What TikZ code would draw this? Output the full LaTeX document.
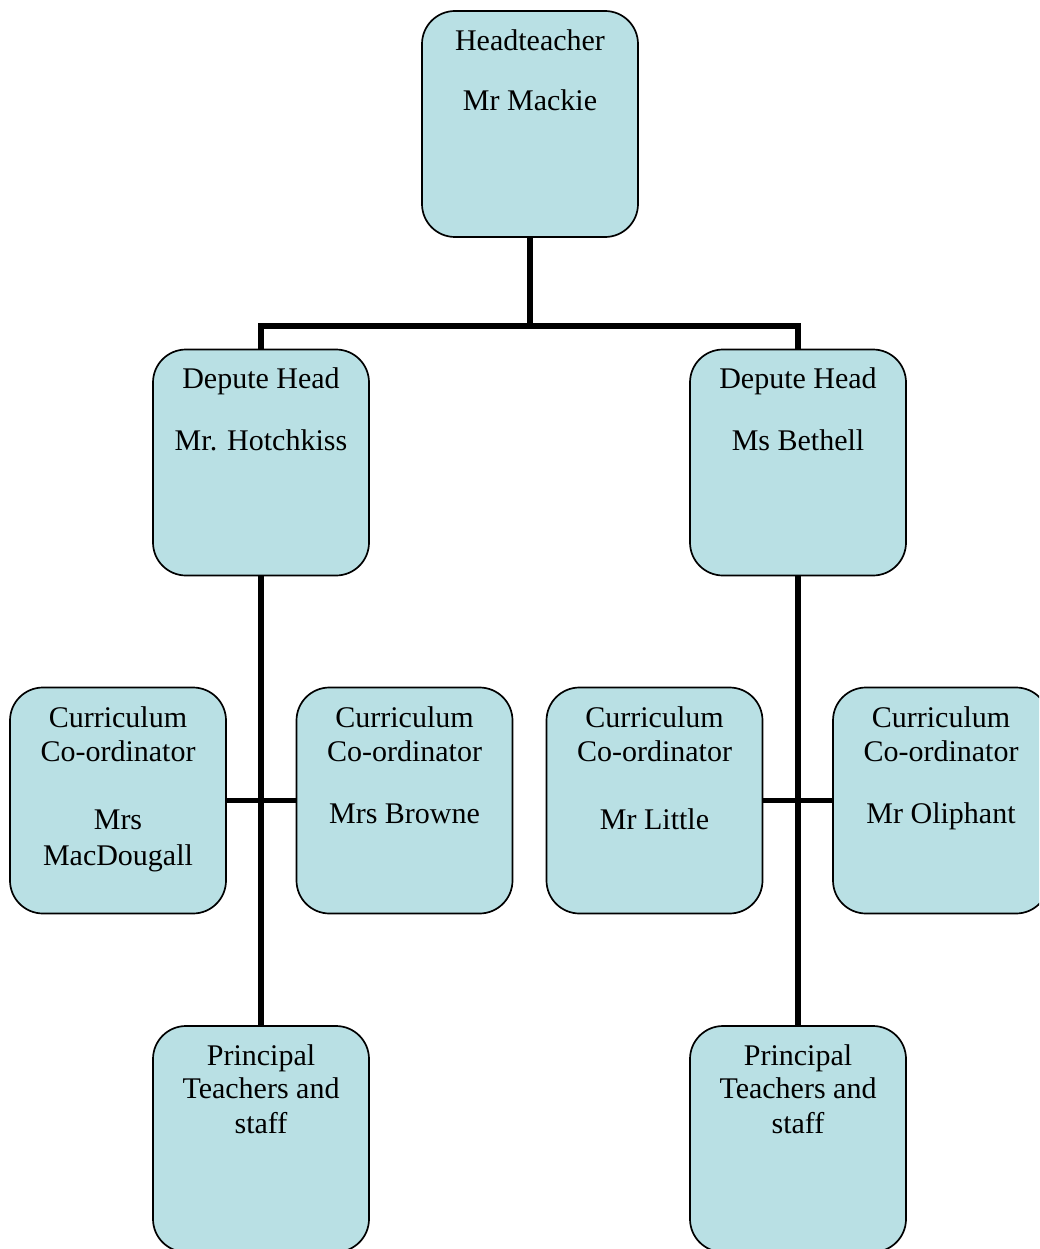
\documentclass[tikz,border=0pt]{standalone}
\usepackage{fontspec}
\setmainfont{Liberation Serif}
\usetikzlibrary{backgrounds}
\definecolor{boxfill}{RGB}{185,224,228}
\begin{document}
\begin{tikzpicture}[x=1pt,y=-1pt,
  orgbox/.style={draw=black,line width=1.7pt,fill=boxfill,rounded corners=33pt,
    minimum width=216pt,minimum height=226pt,inner sep=0pt,outer sep=0pt},
  txt/.style={anchor=base,inner sep=0pt,font=\fontsize{30}{34.5}\selectfont},
  conn/.style={line width=5.6pt,line join=miter}]
\useasboundingbox (0,0) rectangle (1039,1249);
\clip (0,0) rectangle (1039,1249);
% boxes
\node[orgbox] (ht) at (530,124) {};
\node[orgbox] (dl) at (261,462.5) {};
\node[orgbox] (dr) at (798,462.5) {};
\node[orgbox] (c1) at (118,800.5) {};
\node[orgbox] (c2) at (404.5,800.5) {};
\node[orgbox] (c3) at (654.5,800.5) {};
\node[orgbox] (c4) at (941,800.5) {};
\node[orgbox] (p1) at (261,1139) {};
\node[orgbox] (p2) at (798,1139) {};
% texts
\node[txt] (ht1) at (530,51) {Headteacher};
\node[txt] (ht2) at (530,111) {Mr Mackie};
\node[txt] (dl1) at (261,388) {Depute Head};
\node[txt] (dl2) at (261,450) {Mr. Hotchkiss};
\node[txt] (dr1) at (798,388) {Depute Head};
\node[txt] (dr2) at (798,450) {Ms Bethell};
\node[txt] (c1a) at (118,727) {Curriculum};
\node[txt] (c1b) at (118,761) {Co-ordinator};
\node[txt] (c1c) at (118,829) {Mrs};
\node[txt] (c1d) at (118,865) {MacDougall};
\node[txt] (c2a) at (404.5,727) {Curriculum};
\node[txt] (c2b) at (404.5,761) {Co-ordinator};
\node[txt] (c2c) at (404.5,823) {Mrs Browne};
\node[txt] (c3a) at (654.5,727) {Curriculum};
\node[txt] (c3b) at (654.5,761) {Co-ordinator};
\node[txt] (c3c) at (654.5,829) {Mr Little};
\node[txt] (c4a) at (941,727) {Curriculum};
\node[txt] (c4b) at (941,761) {Co-ordinator};
\node[txt] (c4c) at (941,823) {Mr Oliphant};
\node[txt] (p1a) at (261,1065) {Principal};
\node[txt] (p1b) at (261,1098) {Teachers and};
\node[txt] (p1c) at (261,1133) {staff};
\node[txt] (p2a) at (798,1065) {Principal};
\node[txt] (p2b) at (798,1098) {Teachers and};
\node[txt] (p2c) at (798,1133) {staff};
% connectors
\coordinate (j) at (530,326);
\begin{pgfonlayer}{background}
\draw[conn] (ht.south) -- (j);
\draw[conn] (dl.north) |- (j) -| (dr.north);
\draw[conn] (dl.south) -- (p1.north);
\draw[conn] (dr.south) -- (p2.north);
\draw[conn] (c1.east) -- (c2.west);
\draw[conn] (c3.east) -- (c4.west);
\end{pgfonlayer}
\end{tikzpicture}
\end{document}
